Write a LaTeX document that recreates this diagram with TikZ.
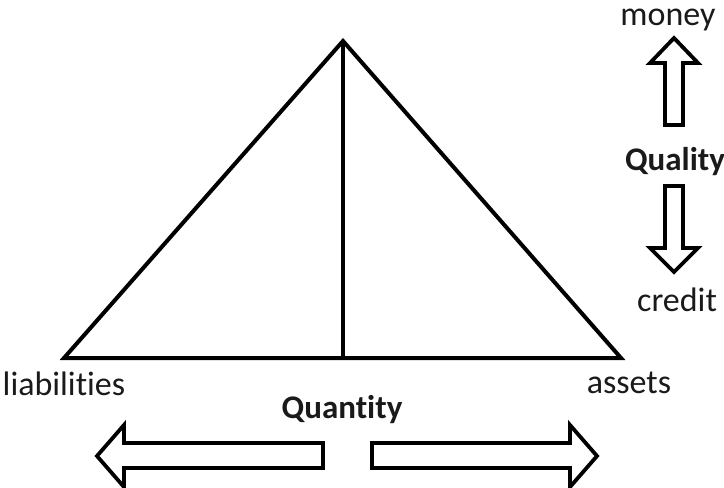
\documentclass[tikz,border=0pt]{standalone}
\usepackage{fontspec}
\setmainfont[Ligatures={NoCommon,NoContextual}]{Carlito}
\usetikzlibrary{positioning}
\definecolor{border}{HTML}{000000}
\definecolor{textCol}{HTML}{1A1A1A}
\tikzset{
  edge/.style={draw=border, line width=4pt, line join=miter},
  blockarrow/.style={draw=border, fill=white, line width=3.8pt, line join=miter},
  label/.style={font=\fontsize{34}{38}\selectfont, text=textCol, anchor=base, inner sep=0pt},
  heading/.style={label, font=\fontsize{33}{38}\selectfont\bfseries},
}

\begin{document}
\begin{tikzpicture}[x=1pt, y=-1pt]
  \useasboundingbox (0,0) rectangle (724,488);

  % Triangle
  \coordinate (top) at (343, 41);
  \coordinate (left) at (64, 358);
  \coordinate (right) at (621, 358);
  \coordinate (mid) at (343, 358);
  \draw[edge] (left) -- (top) -- (right) -- cycle;
  \draw[edge] (top) -- (mid);

  \node[label] (liab) at (64, 395) {liabilities};
  \node[label] (assets) at (629, 393) {assets};
  \node[heading] (quantity) at (342, 418) {Quantity};

  % Quantity arrows
  \draw[blockarrow] (97,456) -- (124,425) -- (124,443) -- (323,443) -- (323,468)
    -- (124,468) -- (124,487) -- cycle;
  \draw[blockarrow] (597,456) -- (570,425) -- (570,443) -- (372,443) -- (372,468)
    -- (570,468) -- (570,487) -- cycle;

  % Quality
  \node[label] (money) at (668, 25) {money};
  \node[heading] (quality) at (675, 170) {Quality};
  \node[label] (credit) at (677, 311) {credit};

  \draw[blockarrow] (674,38) -- (650,63) -- (665,63) -- (665,125) -- (683,125)
    -- (683,63) -- (698,63) -- cycle;
  \draw[blockarrow] (674,272) -- (650,248) -- (665,248) -- (665,186) -- (683,186)
    -- (683,248) -- (698,248) -- cycle;

\end{tikzpicture}
\end{document}
